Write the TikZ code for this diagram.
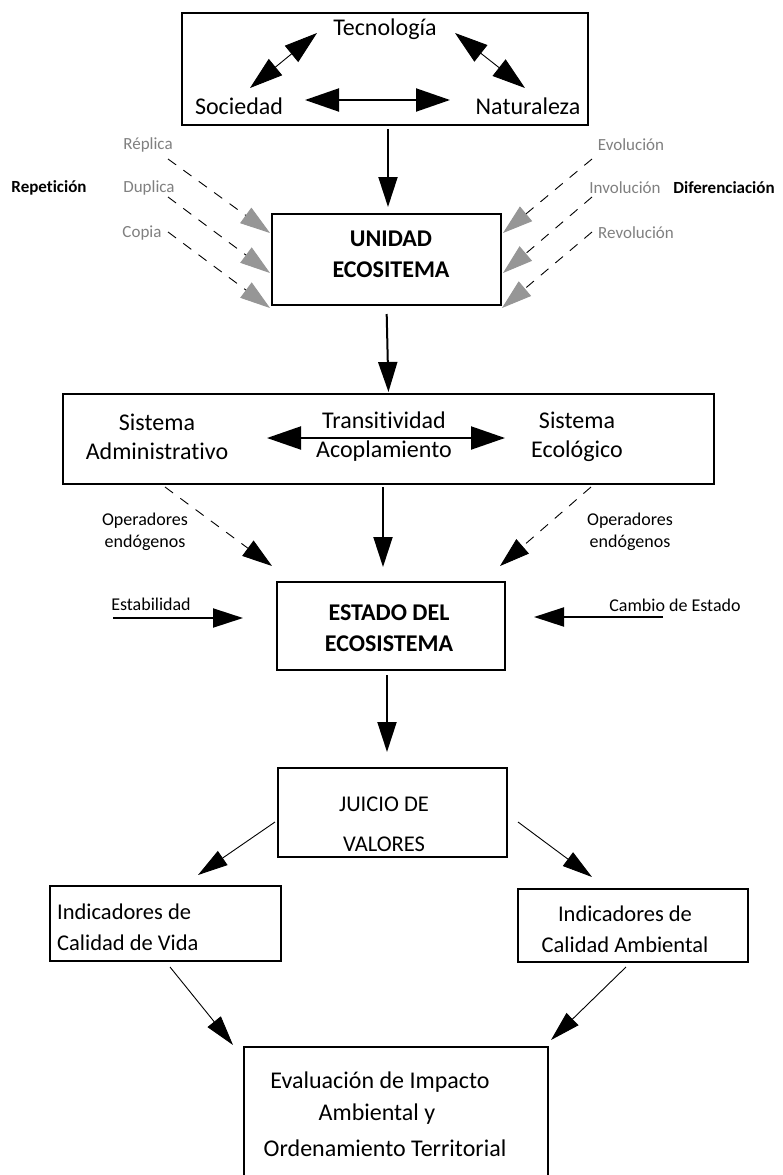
\documentclass[tikz,border=0pt]{standalone}
\usepackage{fontspec}
\setmainfont{Carlito}[RawFeature={-liga;-dlig;-calt;-clig}]
\usetikzlibrary{arrows.meta}
\definecolor{lblgray}{RGB}{128,128,128}
\definecolor{headgray}{RGB}{150,150,150}
\begin{document}
\begin{tikzpicture}[x=1pt,y=-1pt,
  box/.style={draw, line width=2pt, rectangle, inner sep=0pt},
  main/.style={font=\fontsize{24}{30}\selectfont, inner sep=0pt, align=center},
  mainb/.style={font=\fontsize{24}{31}\selectfont\bfseries, inner sep=0pt, align=center},
  mid/.style={font=\fontsize{22.5}{40}\selectfont, inner sep=0pt, align=center},
  small/.style={font=\fontsize{18}{22}\selectfont, inner sep=0pt, align=center},
  glabel/.style={font=\fontsize{17}{20}\selectfont, text=lblgray, inner sep=0pt},
  blabel/.style={font=\fontsize{17}{20}\selectfont\bfseries, inner sep=0pt},
  bigarr/.style={line width=2pt, -{Triangle[length=30pt,width=19pt]}},
  dblarr/.style={line width=2pt, {Triangle[length=34pt,width=23pt]}-{Triangle[length=34pt,width=23pt]}},
  thindbl/.style={line width=0.9pt, {Triangle[length=33pt,width=21pt]}-{Triangle[length=33pt,width=21pt]}},
  thinarr/.style={line width=0.9pt, -{Triangle[length=30pt,width=17pt]}},
  grayarr/.style={line width=0.9pt, dash pattern=on 10pt off 9pt, -{Triangle[length=30pt,width=19pt,color=headgray,fill=headgray]}},
  dasharr/.style={line width=0.9pt, dash pattern=on 10pt off 9pt, -{Triangle[length=30pt,width=19pt]}}
]
\useasboundingbox[fill=white] (0,0) rectangle (782,1175);

% boxes
\node[box, minimum width=406pt, minimum height=112pt] (top) at (385,69) {};
\node[box, minimum width=229pt, minimum height=91pt] (unidad) at (386.5,259.5) {};
\node[box, minimum width=651pt, minimum height=90pt] (midbox) at (388.5,439) {};
\node[box, minimum width=228pt, minimum height=88pt] (estado) at (391,626) {};
\node[box, minimum width=229pt, minimum height=89pt] (juicio) at (392.5,812.5) {};
\node[box, minimum width=231pt, minimum height=75pt] (indv) at (165.5,923.5) {};
\node[box, minimum width=230pt, minimum height=73pt] (inda) at (633,925.5) {};
\node[box, minimum width=304pt, minimum height=132pt] (eval) at (396,1113) {};

% top box texts
\node[main] (tec) at (385,29) {Tecnología};
\node[main] (soc) at (239,106) {Sociedad};
\node[main] (nat) at (528,106) {Naturaleza};
\coordinate (sn1) at (305,100); \coordinate (sn2) at (450,100);
\coordinate (ts1) at (317,33);  \coordinate (ts2) at (250,88);
\coordinate (tn1) at (455,33);  \coordinate (tn2) at (525,88);
\draw[dblarr] (sn1) -- (sn2);
\draw[thindbl] (ts1) -- (ts2);
\draw[thindbl] (tn1) -- (tn2);

% unidad
\node[mainb] (unidadtxt) at (391,254) {UNIDAD\\ECOSITEMA};
\draw[bigarr, shorten <=3pt, shorten >=6pt] ([xshift=3pt]top.south) -- ([xshift=1.5pt]unidad.north);

% side labels
\node[glabel] (replica) at (148,145) {Réplica};
\node[glabel] (duplica) at (149,188) {Duplica};
\node[glabel] (copia) at (142,233) {Copia};
\node[blabel] (repet) at (49,188) {Repetición};
\node[glabel] (evol) at (631,145) {Evolución};
\node[glabel] (invol) at (625,188) {Involución};
\node[blabel] (difer) at (724,188) {Diferenciación};
\node[glabel] (revol) at (636,233) {Revolución};

\coordinate (la1) at (168,159); \coordinate (lb1) at (270,233);
\coordinate (la2) at (168,197); \coordinate (lb2) at (270,273);
\coordinate (la3) at (168,232); \coordinate (lb3) at (270,308);
\coordinate (ra1) at (592,159); \coordinate (rb1) at (503,233);
\coordinate (ra2) at (592,197); \coordinate (rb2) at (503,273);
\coordinate (ra3) at (592,232); \coordinate (rb3) at (502,308);
\foreach \i in {1,2,3}{
  \draw[grayarr] (la\i) -- (lb\i);
  \draw[grayarr] (ra\i) -- (rb\i);
}

% middle box
\draw[bigarr, shorten <=8pt, shorten >=1pt] (unidad.south) -- (midbox.north);
\node[main] (sisadm) at (157,437) {Sistema\\[-1pt]Administrativo};
\node[main] (trans) at (384,437) {Transitividad\\[-1pt]Acoplamiento};
\node[main] (siseco) at (577,437) {Sistema\\[-1pt]Ecológico};
\coordinate (ta1) at (267,438); \coordinate (ta2) at (505,438);
\draw[dblarr] (ta1) -- (ta2);

% operadores
\node[small] (opl) at (145,532) {Operadores\\endógenos};
\node[small] (opr) at (630,532) {Operadores\\endógenos};
\coordinate (dl1) at (165,487); \coordinate (dl2) at (272,566);
\coordinate (dr1) at (591,487); \coordinate (dr2) at (500,566);
\draw[dasharr] (dl1) -- (dl2);
\draw[dasharr] (dr1) -- (dr2);
\draw[bigarr, shorten <=2pt, shorten >=14pt] ([xshift=-5.5pt]midbox.south) -- ([xshift=-8pt]estado.north);

% estado
\node[mainb] (estadotxt) at (389,628) {ESTADO DEL\\ECOSISTEMA};
\node[small] (estab) at (151,604) {Estabilidad};
\node[small] (cambio) at (675,605) {Cambio de Estado};
\coordinate (e1) at (113,618); \coordinate (e2) at (243,618);
\coordinate (c1) at (663,617); \coordinate (c2) at (534,617);
\draw[bigarr] (e1) -- (e2);
\draw[bigarr] (c1) -- (c2);
\draw[bigarr, shorten <=4pt, shorten >=15pt] ([xshift=-4pt]estado.south) -- ([xshift=-5.5pt]juicio.north);

% juicio
\node[mid] (juiciotxt) at (384,824) {JUICIO DE\\VALORES};
\coordinate (j1) at (275,822); \coordinate (j2) at (198,875);
\coordinate (j3) at (518,822); \coordinate (j4) at (592,877);
\draw[thinarr] (j1) -- (j2);
\draw[thinarr] (j3) -- (j4);

% indicadores
\node[mid, align=left, anchor=west] (indvtxt) at (57,927) {Indicadores de\\[-9pt]Calidad de Vida};
\node[mid] (indatxt) at (625,929) {Indicadores de\\[-9pt]Calidad Ambiental};
\coordinate (i1) at (170,967); \coordinate (i2) at (233,1045);
\coordinate (i3) at (626,967); \coordinate (i4) at (551,1040);
\draw[thinarr] (i1) -- (i2);
\draw[thinarr] (i3) -- (i4);

% evaluacion
\node[main] (eval1) at (380,1082) {Evaluación de Impacto};
\node[main] (eval2) at (377,1114) {Ambiental y};
\node[main] (eval3) at (385,1148) {Ordenamiento Territorial};
\end{tikzpicture}
\end{document}
